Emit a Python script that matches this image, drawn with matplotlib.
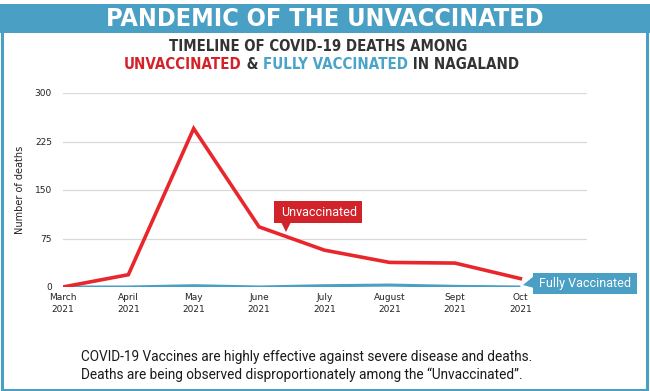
import matplotlib
matplotlib.use("Agg")
import matplotlib.pyplot as plt
from matplotlib.patches import Rectangle, Polygon

# data
months = ["March\n2021", "April\n2021", "May\n2021", "June\n2021",
          "July\n2021", "August\n2021", "Sept\n2021", "Oct\n2021"]
unvaccinated = [0, 19, 245, 93, 57, 38, 37, 13]
fully_vaccinated = [0, 0, 2, 0, 2, 3, 1, 0]
yticks = [0, 75, 150, 225, 300]

RED = "#e8262b"
BOX_RED = "#d2232a"
BLUE = "#4a9fc4"
DARK = "#333333"

W, H = 650, 391
fig = plt.figure(figsize=(W / 100, H / 100), dpi=100)
fig.patch.set_facecolor("white")
renderer = fig.canvas.get_renderer()

def fx(px):
    return px / W

def fy(py):
    return 1 - py / H

def fit(texts, target_px):
    # scale font so the group of texts spans target_px
    total = sum(t.get_window_extent(renderer).width for t in texts)
    for t in texts:
        t.set_fontsize(t.get_fontsize() * target_px / total)

# frame and header band
fig.patches.append(Rectangle((fx(1.5), fy(389.5)), fx(645.5), (388 - 4) / H,
                             transform=fig.transFigure, fill=False,
                             edgecolor=BLUE, linewidth=2.2))
fig.patches.append(Rectangle((0, fy(33)), 1, 29 / H, transform=fig.transFigure,
                             facecolor=BLUE, edgecolor="none"))

title = fig.text(fx(325), fy(18.5), "PANDEMIC OF THE UNVACCINATED", color="white",
                 fontsize=20, fontweight="bold", fontstretch="condensed",
                 ha="center", va="center")
fit([title], 435)
sub1 = fig.text(fx(318), fy(46.5), "TIMELINE OF COVID-19 DEATHS AMONG", color=DARK,
                fontsize=11.5, fontweight="bold", fontstretch="condensed",
                ha="center", va="center")
fit([sub1], 299)

# second subtitle line in several colours
parts = [("UNVACCINATED", "#d2232a"), (" & ", DARK),
         ("FULLY VACCINATED", "#4aa3c9"), (" IN NAGALAND", DARK)]
texts = []
for s, c in parts:
    t = fig.text(0, fy(64.5), s, color=c, fontsize=11.5, fontweight="bold",
                 fontstretch="condensed", ha="left", va="center")
    texts.append(t)
fit(texts, 395)
widths = [t.get_window_extent(renderer).width for t in texts]
x0 = 321.5 - sum(widths) / 2
for t, w in zip(texts, widths):
    t.set_x(fx(x0))
    x0 += w

# chart
ax = fig.add_axes([fx(63), fy(287), fx(587 - 63), (287 - 93) / H])
x = list(range(len(months)))
ax.plot(x, fully_vaccinated, color=BLUE, linewidth=2.2, zorder=3,
        solid_capstyle="butt")
ax.plot(x, unvaccinated, color=RED, linewidth=2.6, zorder=4,
        solid_joinstyle="miter")
ax.set_xlim(0, 8.02)
ax.set_ylim(0, 300)
ax.set_yticks(yticks)
ax.set_yticklabels([str(v) for v in yticks])
ax.set_xticks(x)
ax.set_xticklabels(months, linespacing=1.45)
ax.grid(axis="y", color="#d9d9d9", linewidth=0.9)
ax.set_axisbelow(True)
for sp in ax.spines.values():
    sp.set_visible(False)
ax.tick_params(length=0, labelsize=6.5, colors="#222222")
ax.tick_params(axis="y", pad=8)
ax.tick_params(axis="x", pad=4)
ax.set_ylabel("Number of deaths", fontsize=7, color="#222222", labelpad=7)

# callouts
fig.patches.append(Rectangle((fx(274), fy(223)), fx(88), 22 / H,
                             transform=fig.transFigure, facecolor=BOX_RED,
                             edgecolor="none", zorder=5))
fig.patches.append(Polygon([(fx(281), fy(222)), (fx(291), fy(222)),
                            (fx(286), fy(232))], closed=True,
                           transform=fig.transFigure, facecolor=BOX_RED,
                           edgecolor="none", zorder=5))
fig.text(fx(319), fy(212), "Unvaccinated", color="white", fontsize=9,
         family="Roboto", ha="center", va="center", zorder=6)

fig.patches.append(Rectangle((fx(533), fy(294)), fx(104), 21 / H,
                             transform=fig.transFigure, facecolor=BLUE,
                             edgecolor="none", zorder=5))
fig.patches.append(Polygon([(fx(534), fy(276)), (fx(534), fy(288)),
                            (fx(523), fy(285))], closed=True,
                           transform=fig.transFigure, facecolor=BLUE,
                           edgecolor="none", zorder=5))
fig.text(fx(585), fy(283.5), "Fully Vaccinated", color="white", fontsize=9,
         family="Roboto", ha="center", va="center", zorder=6)

# footer
foot1 = fig.text(fx(81), fy(357),
                 "COVID-19 Vaccines are highly effective against severe disease and deaths.",
                 color="#1a1a1a", fontsize=9.3, family="Roboto", ha="left", va="center")
fit([foot1], 452)
foot2 = fig.text(fx(81), fy(375),
                 "Deaths are being observed disproportionately among the \u201cUnvaccinated\u201d.",
                 color="#1a1a1a", fontsize=foot1.get_fontsize(), family="Roboto",
                 ha="left", va="center")

fig.savefig("out.png", dpi=100)
